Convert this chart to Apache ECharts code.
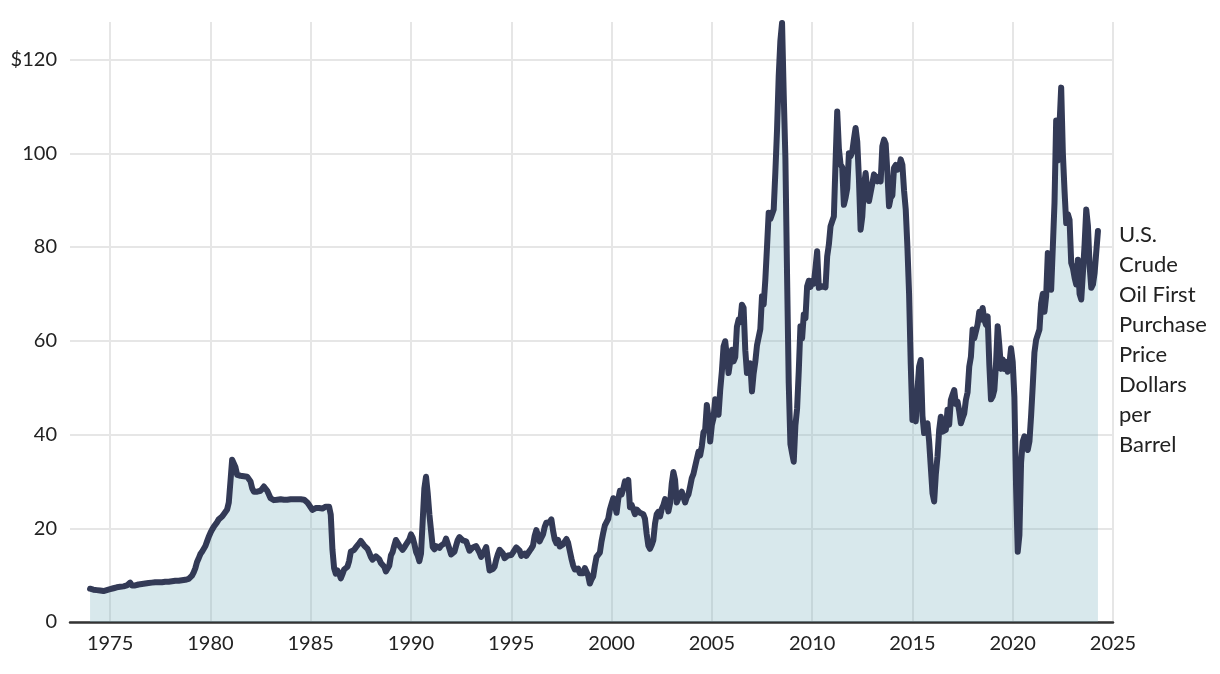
<!DOCTYPE html>
<html><head><meta charset="utf-8">
<script src="https://cdn.jsdelivr.net/npm/echarts@6/dist/echarts.min.js"></script>
<style>html,body{margin:0;padding:0;background:#fff}#c{width:1220px;height:674px}</style>
</head><body><div id="c"></div>
<script>
// ---- data (monthly, U.S. crude oil first purchase price, $/bbl) ----
const axisStartYear = 1973;
const axisEndYear = 2025;
const dataStartYear = 1974;

const prices1970s = [
  7.1,7.0,6.9,6.9,6.8,6.8,6.7,6.6,6.6,6.7,6.8,6.9,
  7.0,7.1,7.2,7.3,7.4,7.4,7.5,7.6,7.6,7.7,7.8,7.9,
  8.4,7.8,7.7,7.8,7.9,8.0,8.1,8.1,8.2,8.2,8.3,8.3,
  8.4,8.4,8.5,8.5,8.5,8.5,8.5,8.5,8.6,8.6,8.6,8.6,
  8.7,8.7,8.7,8.8,8.8,8.8,8.9,8.9,9.0,9.0,9.1,9.2,
  9.5,9.9,10.6,11.5,12.8,13.6,14.5,15.0,15.4,16.2,17.2,18.2
];
const prices1980s = [
  19.0,19.7,20.3,20.8,21.3,21.9,22.2,22.5,23.0,23.2,24.0,25.5,
  30.0,34.6,34.2,33.0,31.4,31.2,31.2,31.1,31.1,31.0,31.0,31.0,
  30.0,28.5,27.8,27.8,27.8,28.0,28.0,28.2,28.9,28.8,28.0,27.2,
  26.4,26.1,26.0,26.0,26.1,26.1,26.2,26.2,26.1,26.0,26.1,26.0,
  26.2,26.2,26.2,26.1,26.2,26.1,26.2,26.2,26.1,26.0,25.5,25.0,
  24.6,23.9,24.0,24.3,24.3,24.3,24.3,24.2,24.3,24.6,24.8,24.6,
  22.9,15.5,11.5,10.3,11.0,10.4,9.3,10.2,11.2,11.3,11.8,13.0,
  15.0,15.3,15.4,15.9,16.2,16.8,17.3,17.2,16.3,16.2,15.6,14.8,
  13.9,13.3,13.0,14.0,14.3,13.4,12.6,12.4,11.8,10.8,10.4,12.0,
  14.2,14.9,16.3,17.5,17.2,16.3,16.1,15.4,15.9,16.5,16.5,17.6
];
const prices1990s = [
  18.7,18.0,16.7,15.0,14.2,13.0,14.6,21.5,28.5,31.0,27.5,23.0,
  19.5,16.0,15.5,16.2,16.4,15.8,16.3,16.6,16.8,17.8,17.5,15.6,
  14.4,14.5,15.0,16.3,17.5,18.1,17.9,17.4,17.4,17.2,16.2,15.2,
  15.3,15.9,16.3,16.2,15.8,14.8,13.9,14.2,15.2,16.0,13.5,11.0,
  10.9,11.3,11.8,13.3,14.5,15.4,15.0,14.6,13.6,13.8,14.2,13.9,
  14.3,14.8,15.0,15.9,16.0,15.2,14.1,14.3,14.6,14.1,14.2,15.2,
  15.7,16.3,18.4,19.6,18.5,17.2,18.0,18.7,20.3,21.2,20.8,21.3,
  21.9,19.5,17.6,16.8,17.5,16.1,16.5,16.6,16.6,17.7,16.9,15.2,
  13.5,12.1,11.2,11.3,11.4,10.4,10.5,10.4,11.5,11.3,9.9,8.2,
  9.1,9.7,12.0,13.9,14.2,14.8,17.2,19.0,20.6,20.2,22.0,24.0
];
const prices2000s = [
  25.2,26.4,26.4,23.3,26.2,28.0,27.2,28.4,30.0,29.5,30.3,24.5,
  25.0,24.0,23.0,24.0,24.3,23.3,23.0,23.0,22.0,18.8,16.3,15.6,
  16.4,17.5,21.0,23.0,23.5,22.5,24.1,24.9,26.2,25.6,23.6,25.3,
  29.5,32.0,30.3,25.5,25.3,27.3,27.8,28.2,25.5,26.6,27.2,28.9,
  30.7,31.6,33.2,33.6,36.3,35.5,37.5,40.5,41.0,46.3,43.5,38.5,
  42.0,43.5,47.5,47.3,44.2,49.5,53.5,58.8,59.9,56.5,53.1,53.5,
  58.1,55.6,56.5,63.0,64.5,64.0,67.7,67.0,58.0,53.1,53.5,55.2,
  49.2,53.0,55.5,59.0,59.1,62.5,69.5,67.7,73.0,80.0,87.3,86.0,
  86.0,88.0,96.0,105.0,116.4,124.0,127.8,112.5,99.0,74.0,51.0,38.0,
  36.0,34.2,42.0,45.5,53.5,63.1,60.5,65.6,64.8,71.6,72.8,71.5
];
const prices2010s = [
  72.8,72.2,75.5,79.1,71.3,71.4,71.6,71.7,71.4,78.0,80.5,84.4,
  85.5,86.5,98.0,108.9,101.0,97.6,97.0,89.0,90.5,92.5,100.0,99.4,
  100.3,103.0,105.4,102.5,94.5,83.7,86.5,93.0,95.8,92.0,89.8,89.5,
  93.5,95.5,94.5,94.0,95.0,94.0,101.5,102.9,102.0,96.0,88.7,90.5,
  91.0,96.9,97.5,96.5,97.0,98.7,97.5,92.0,88.0,80.0,70.0,55.0,
  43.1,45.0,42.8,49.5,54.5,55.9,44.0,40.3,41.5,42.4,38.5,33.0,
  27.5,25.7,31.5,35.3,41.0,43.8,40.6,40.5,41.0,45.3,42.1,47.4,
  48.5,49.5,46.5,47.0,45.0,42.4,43.5,44.5,47.4,49.0,54.5,56.6,
  62.4,60.5,60.9,63.5,66.2,64.5,67.0,64.5,63.4,65.2,55.0,47.5,
  48.1,49.5,55.0,63.1,59.0,54.0,56.0,54.0,55.5,53.4,55.0,58.4
];
const prices2020s = [
  55.5,48.0,29.0,15.0,18.5,34.0,38.5,39.6,37.5,36.7,38.5,44.0,
  50.5,57.5,60.2,60.5,62.4,68.0,70.0,66.2,69.5,78.7,77.0,70.9,
  80.0,89.4,107.0,98.5,106.0,114.0,100.0,92.0,85.1,87.0,85.8,76.6,
  75.5,73.5,72.0,77.3,70.0,68.8,74.5,80.5,88.0,84.5,76.0,71.3,
  72.0,74.5,79.0,83.4
];

const xTickYears = [1975,1980,1985,1990,1995,2000,2005,2010,2015,2020,2025];
const yTickValues = [0,20,40,60,80,100,120];
const yTopLabel = '$120';
const seriesLabelLines = ['U.S.','Crude','Oil First','Purchase','Price','Dollars','per','Barrel'];

// ---- build library inputs ----
const monthlyValues = [].concat(prices1970s, prices1980s, prices1990s, prices2000s, prices2010s, prices2020s);
const categories = [];
for (let y = axisStartYear; y <= axisEndYear; y++) {
  for (let m = 1; m <= 12; m++) {
    if (y === axisEndYear && m > 1) break;
    categories.push(y + '-' + String(m).padStart(2, '0'));
  }
}
const lead = (dataStartYear - axisStartYear) * 12;
const seriesData = new Array(lead).fill(null).concat(monthlyValues);

const isYearTick = (idx, val) => val.slice(5) === '01' && xTickYears.indexOf(+val.slice(0, 4)) >= 0;

const chart = echarts.init(document.getElementById('c'), null, {renderer: 'canvas'});
chart.setOption({
  animation: false,
  backgroundColor: '#ffffff',
  grid: {left: 70, right: 107, top: 22, bottom: 52, containLabel: false},
  xAxis: {
    type: 'category',
    data: categories,
    boundaryGap: false,
    axisLine: {show: true, lineStyle: {color: '#333333', width: 2.5}},
    axisTick: {show: false},
    axisLabel: {
      interval: isYearTick,
      formatter: v => v.slice(0, 4),
      fontFamily: 'Lato', fontSize: 20, color: '#222222', margin: 12
    },
    splitLine: {show: true, interval: isYearTick, lineStyle: {color: '#e6e6e6', width: 2}}
  },
  yAxis: {
    type: 'value',
    min: 0, max: 128, interval: 20,
    axisLine: {show: false},
    axisTick: {show: false},
    axisLabel: {
      formatter: v => yTickValues.indexOf(v) < 0 ? '' : (v === 120 ? yTopLabel : String(v)),
      fontFamily: 'Lato', fontSize: 20, color: '#222222', margin: 13
    },
    splitLine: {show: true, showMaxLine: false, lineStyle: {color: '#e6e6e6', width: 2}}
  },
  series: [{
    type: 'line',
    name: seriesLabelLines.join(' '),
    data: seriesData,
    showSymbol: false,
    symbol: 'none',
    silent: true,
    lineStyle: {color: '#333a56', width: 6, join: 'round', cap: 'round'},
    areaStyle: {color: '#7fb4bf', opacity: 0.3}
  }],
  graphic: [{
    type: 'text',
    left: 1119,
    top: 220,
    style: {
      text: seriesLabelLines.join('\n'),
      fontFamily: 'Lato', fontSize: 22, lineHeight: 30, fill: '#222222'
    }
  }]
});
</script>
</body></html>
